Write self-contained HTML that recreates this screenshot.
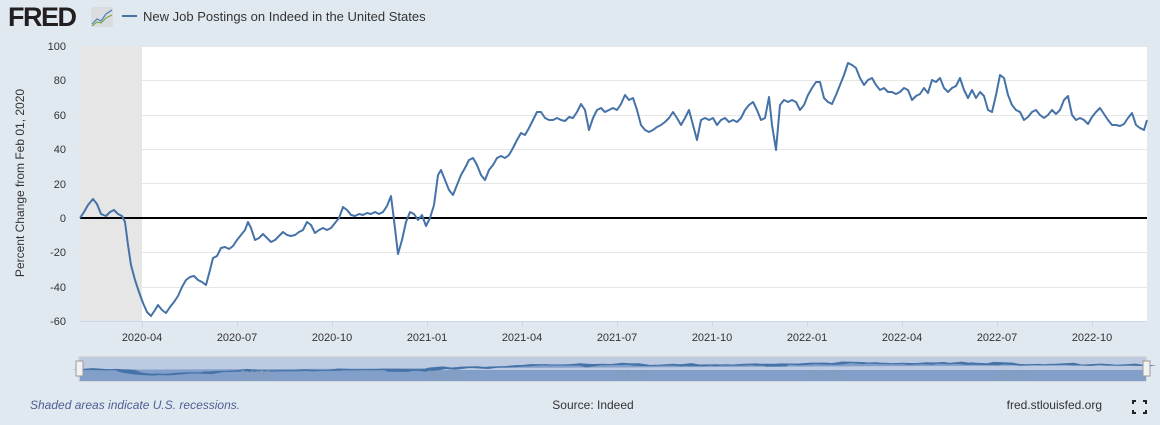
<!DOCTYPE html>
<html><head><meta charset="utf-8"><style>
body{margin:0;background:#e1e9f0;font-family:"Liberation Sans",sans-serif;}
</style></head><body>
<svg width="1160" height="425" xmlns="http://www.w3.org/2000/svg" style="display:block">
<rect width="1160" height="425" fill="#e1e9f0"/>
<text x="8" y="26" font-size="27" font-weight="bold" fill="#231f20" font-family="Liberation Sans,sans-serif" letter-spacing="-1.5">FRED</text>
<rect x="91" y="7" width="22" height="20" fill="#d9dde0" rx="2"/>
<polyline points="92,24 97,19 101,21 106,14 112,10" fill="none" stroke="#4f7cb3" stroke-width="1.2"/>
<polyline points="92,26 97,22 101,23 106,18 112,15" fill="none" stroke="#79a84b" stroke-width="1.2"/>
<line x1="122" y1="16" x2="137" y2="16" stroke="#4572a7" stroke-width="2"/>
<text x="143" y="21" font-size="13" fill="#333">New Job Postings on Indeed in the United States</text>
<rect x="80" y="46" width="1067" height="275" fill="#fff"/>
<rect x="80" y="46" width="62" height="275" fill="#e6e6e6"/>
<g stroke="#e6e6e6" stroke-width="1">
<line x1="142" y1="46.5" x2="1147" y2="46.5"/><line x1="142" y1="80.5" x2="1147" y2="80.5"/><line x1="142" y1="115.5" x2="1147" y2="115.5"/><line x1="142" y1="149.5" x2="1147" y2="149.5"/><line x1="142" y1="183.5" x2="1147" y2="183.5"/><line x1="142" y1="252.5" x2="1147" y2="252.5"/><line x1="142" y1="287.5" x2="1147" y2="287.5"/>
</g>
<line x1="80" y1="321.5" x2="1147" y2="321.5" stroke="#ccd6eb"/>
<g stroke="#ccd6eb"><line x1="142.5" y1="321" x2="142.5" y2="327"/><line x1="237.5" y1="321" x2="237.5" y2="327"/><line x1="332.5" y1="321" x2="332.5" y2="327"/><line x1="427.5" y1="321" x2="427.5" y2="327"/><line x1="522.5" y1="321" x2="522.5" y2="327"/><line x1="617.5" y1="321" x2="617.5" y2="327"/><line x1="712.5" y1="321" x2="712.5" y2="327"/><line x1="807.5" y1="321" x2="807.5" y2="327"/><line x1="902.5" y1="321" x2="902.5" y2="327"/><line x1="997.5" y1="321" x2="997.5" y2="327"/><line x1="1092.5" y1="321" x2="1092.5" y2="327"/></g>
<line x1="80" y1="218" x2="1147" y2="218" stroke="#000" stroke-width="2"/>
<g font-size="11" fill="#333" text-anchor="end">
<text x="66" y="50">100</text><text x="66" y="84">80</text><text x="66" y="119">60</text><text x="66" y="153">40</text><text x="66" y="188">20</text><text x="66" y="222">0</text><text x="66" y="256">-20</text><text x="66" y="291">-40</text><text x="66" y="325">-60</text>
</g>
<g font-size="11" fill="#333" text-anchor="middle">
<text x="142" y="341">2020-04</text><text x="237" y="341">2020-07</text><text x="332" y="341">2020-10</text><text x="427" y="341">2021-01</text><text x="522" y="341">2021-04</text><text x="617" y="341">2021-07</text><text x="712" y="341">2021-10</text><text x="807" y="341">2022-01</text><text x="902" y="341">2022-04</text><text x="997" y="341">2022-07</text><text x="1092" y="341">2022-10</text>
</g>
<text transform="translate(24,183) rotate(-90)" font-size="12" fill="#333" text-anchor="middle">Percent Change from Feb 01, 2020</text>
<defs><polyline id="s" points="80,218 84,212 88,205 93,199 97,204 101,214 106,216 110,212 114,210 118,214 122,216 125,222 128,245 131,265 135,280 139,292 143,303 147,312 151,316 155,310 158,305 162,310 166,313 170,307 174,302 178,296 182,287 186,280 190,277 194,276 198,280 202,282 206,285 210,270 213,258 217,256 221,248 225,247 229,249 233,246 237,240 241,235 245,230 248,222 251,228 255,240 259,238 263,234 267,238 271,242 275,240 279,236 283,232 287,235 291,236 295,235 299,232 303,230 307,222 311,225 315,233 319,230 323,228 327,230 331,228 335,223 339,218 343,207 347,210 351,215 355,216 359,214 363,215 367,213 371,214 375,212 379,214 383,212 387,206 391,196 394,220 398,254 402,240 406,222 410,212 414,214 418,220 422,215 426,226 430,218 434,205 438,175 441,170 445,180 449,190 453,195 457,185 461,175 465,168 469,160 473,158 477,165 481,175 485,180 489,170 493,165 497,158 501,156 505,158 509,155 513,148 517,140 521,133 525,135 529,128 533,120 537,112 541,112 545,118 549,120 553,120 557,118 561,120 565,121 569,117 573,118 577,112 581,104 585,110 589,130 593,118 597,110 601,108 605,112 609,110 613,108 617,110 621,104 625,95 629,100 633,98 637,110 641,125 645,130 649,132 653,130 657,127 661,125 665,122 669,118 673,112 677,118 681,125 685,118 689,110 693,125 697,140 701,120 705,118 709,120 713,118 717,125 721,120 725,118 729,122 733,120 737,122 741,118 745,110 749,105 753,102 757,110 761,120 765,118 769,97 772,125 776,150 780,105 784,100 788,102 792,100 796,102 800,110 804,105 808,95 812,88 816,82 820,82 824,98 828,102 832,104 836,95 840,85 844,75 848,63 852,65 856,68 860,78 864,85 868,80 872,78 876,85 880,90 884,88 888,92 892,92 896,94 900,92 904,88 908,90 912,100 916,96 920,94 924,88 928,93 932,80 936,82 940,78 944,88 948,92 952,88 956,86 960,78 964,90 968,98 972,90 976,98 980,92 984,96 988,110 992,112 996,95 1000,75 1004,78 1008,95 1012,105 1016,110 1020,112 1024,120 1028,117 1032,112 1036,110 1040,115 1044,118 1048,115 1052,110 1056,114 1060,110 1064,100 1068,96 1072,115 1076,120 1080,118 1084,120 1088,124 1092,117 1096,112 1100,108 1104,114 1108,120 1112,125 1116,125 1120,126 1124,124 1128,118 1132,113 1136,125 1140,128 1144,130 1147,120"/></defs>
<use href="#s" fill="none" stroke="#4572a7" stroke-width="2" stroke-linejoin="round"/>
<rect x="79" y="357" width="1067" height="24" fill="#bccbe2" stroke="#ccc"/>
<rect x="80" y="370" width="1066" height="11" fill="#819fc9"/>
<g transform="translate(0,359) scale(1,0.05)">
<use href="#s" fill="#819fc9" stroke="#4572a7" stroke-width="20"/>
</g>
<g font-size="11" fill="#8a9bb5" text-anchor="middle"><text x="255" y="378">Jul '20</text><text x="444" y="378">Jan '21</text><text x="632" y="378">Jul '21</text><text x="825" y="378">Jan '22</text><text x="1012" y="378">Jul '22</text></g>
<rect x="76" y="361" width="7" height="15" fill="#f2f2f2" stroke="#999"/>
<rect x="1143" y="361" width="7" height="15" fill="#f2f2f2" stroke="#999"/>
<text x="30" y="409" font-size="12" font-style="italic" fill="#4d5e94">Shaded areas indicate U.S. recessions.</text>
<text x="593" y="409" font-size="12" fill="#333" text-anchor="middle">Source: Indeed</text>
<text x="1102" y="409" font-size="12" fill="#333" text-anchor="end">fred.stlouisfed.org</text>
<g stroke="#222" stroke-width="2" fill="none"><path d="M1133,404v-3h3M1143,401h3v3M1146,410v3h-3M1136,413h-3v-3"/></g>
</svg>
</body></html>
